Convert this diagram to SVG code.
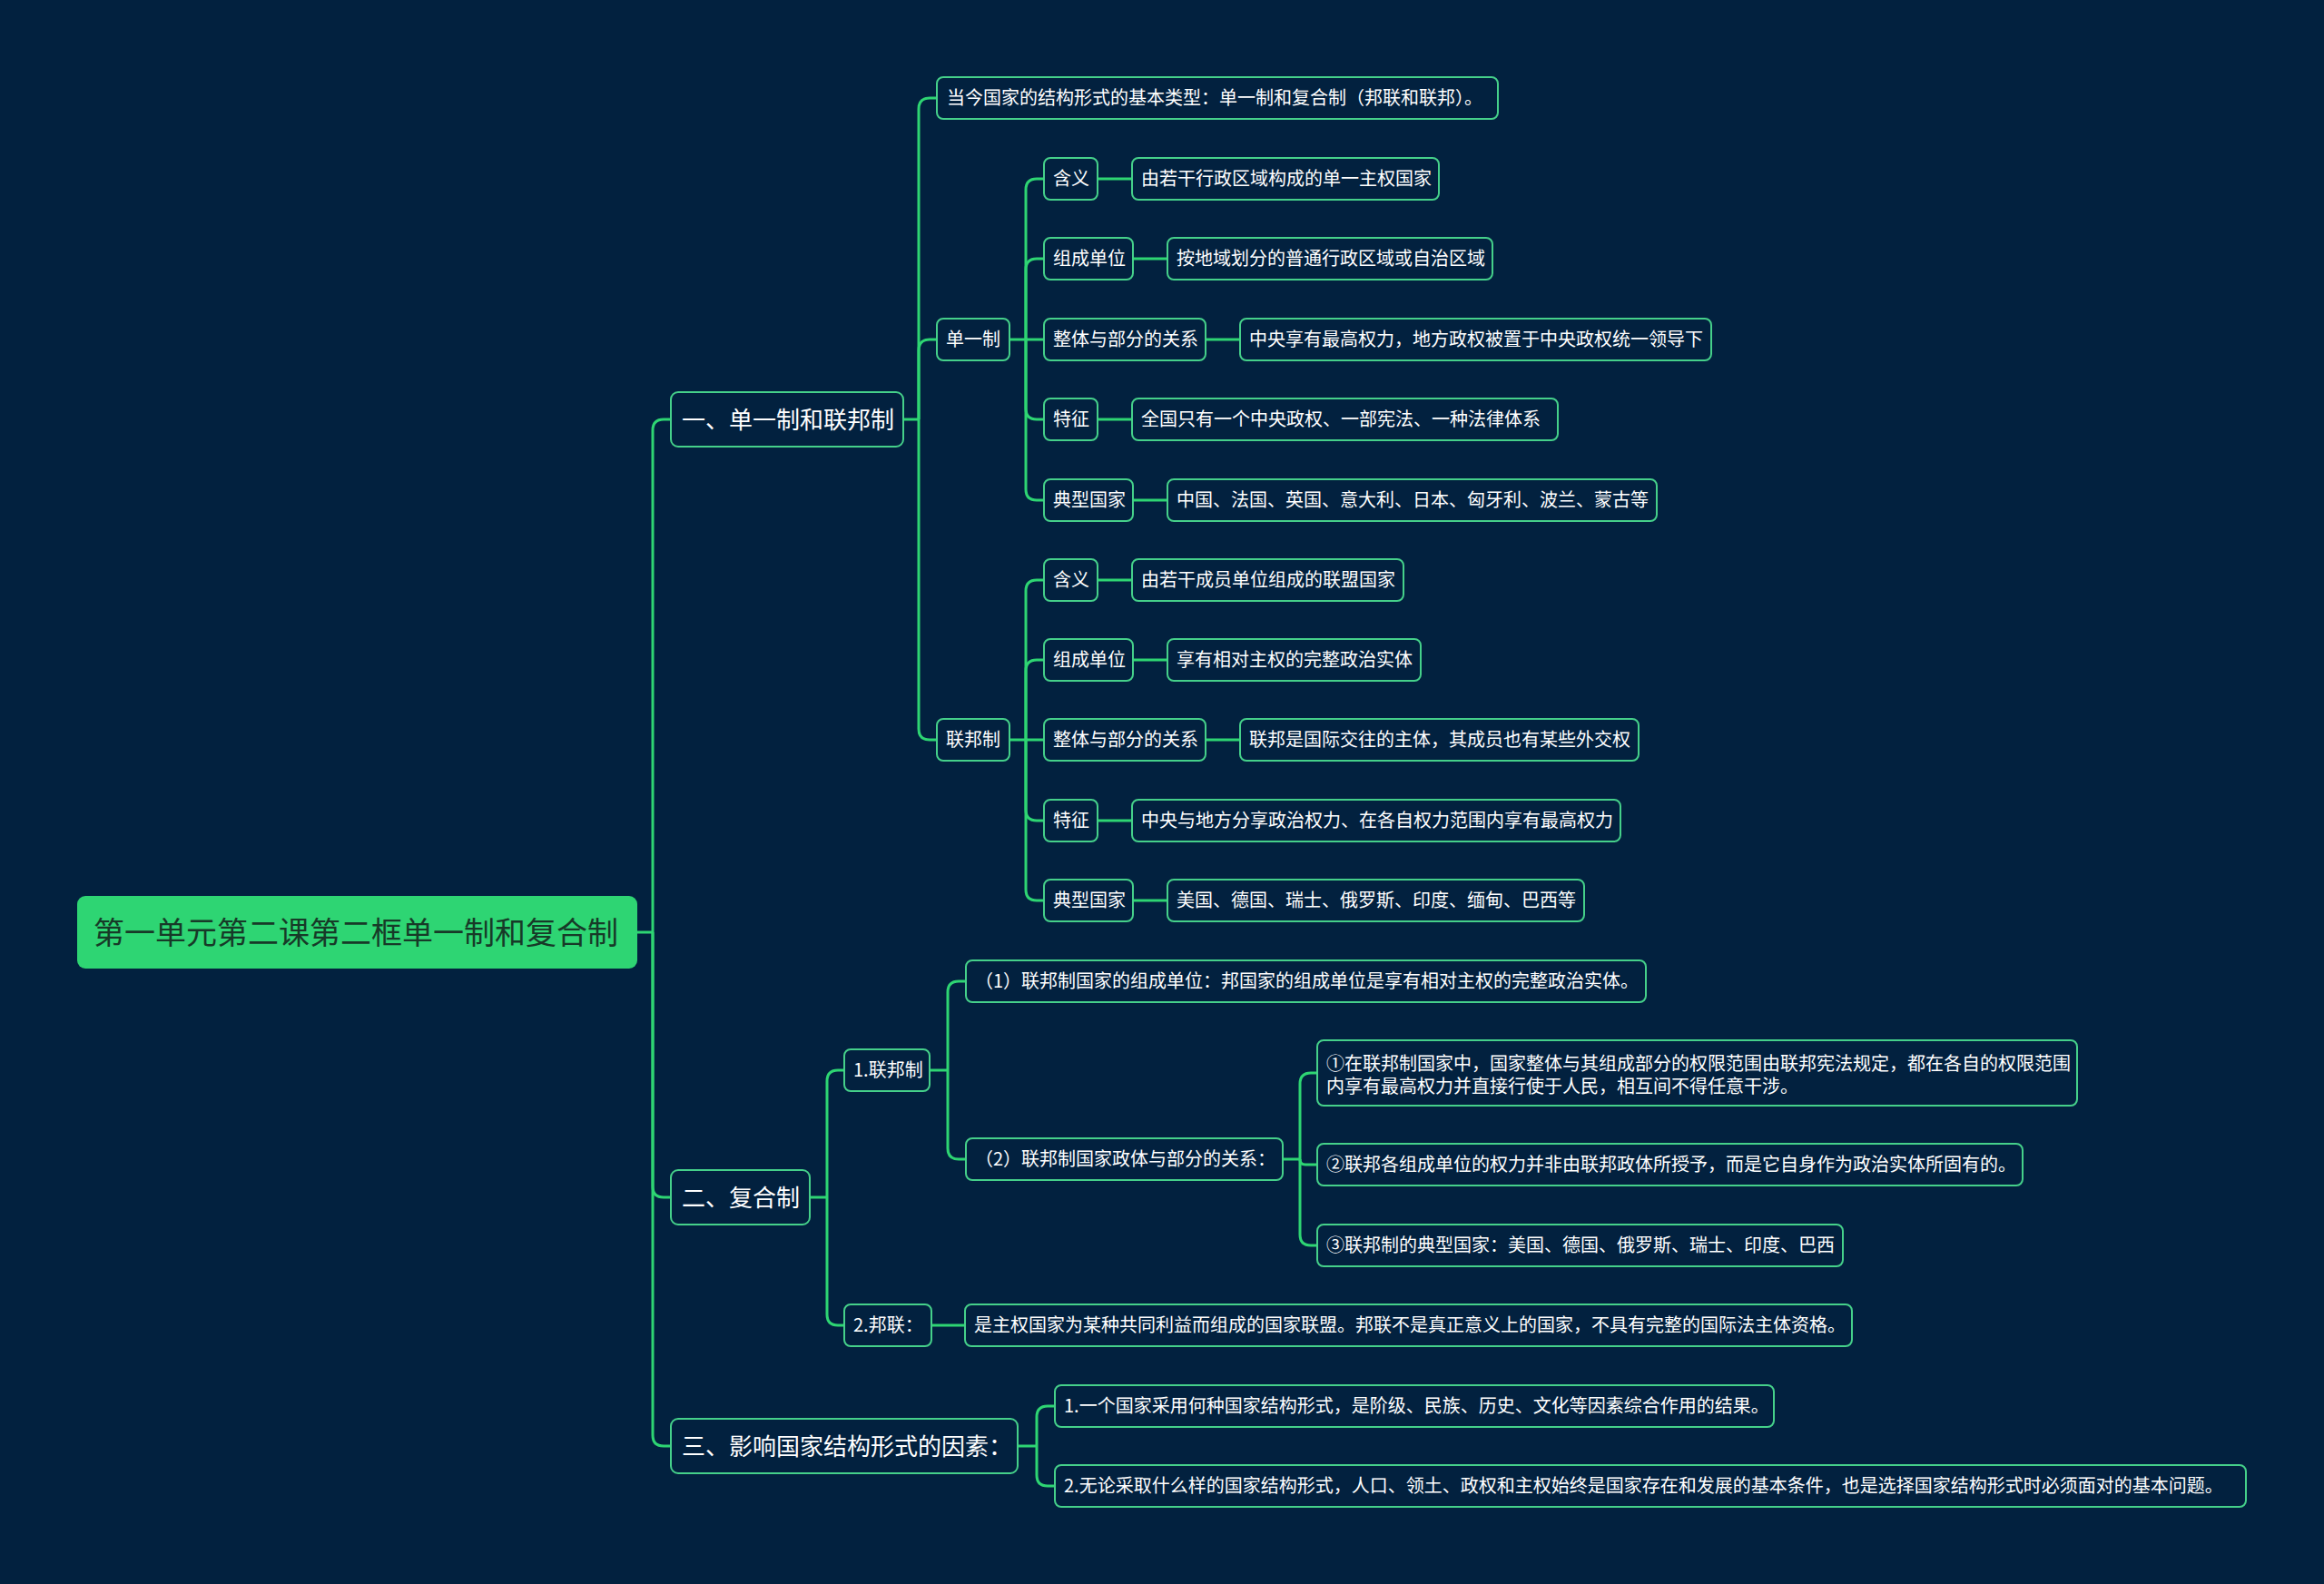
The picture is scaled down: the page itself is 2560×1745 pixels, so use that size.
<svg xmlns="http://www.w3.org/2000/svg" width="2560" height="1745" viewBox="0 0 2560 1745">
<style>
.bg{fill:#02213f}
.n rect{fill:#02213f;stroke:#45d08a;stroke-width:2}
.t{font-family:"Noto Sans CJK SC","Noto Sans",sans-serif;fill:#ffffff;font-size:20px}
.t1{font-size:26px}
.root rect{fill:#2ed573;stroke:none}
.root text{font-family:"Noto Sans CJK SC","Noto Sans",sans-serif;fill:#173a28;font-size:34px}
.c path{fill:none;stroke:#2ed573;stroke-width:3}
</style>
<rect class="bg" x="0" y="0" width="2560" height="1745"/>
<g class="c" id="connectors">
<path d="M702,1027 H719"/>
<path d="M719,1027 V474 Q719,462 731,462 H739"/>
<path d="M719,1027 V1307 Q719,1319 731,1319 H739"/>
<path d="M719,1027 V1581 Q719,1593 731,1593 H739"/>
<path d="M995,462 H1012"/>
<path d="M1012,462 V120 Q1012,108 1024,108 H1032"/>
<path d="M1012,462 V386 Q1012,374 1024,374 H1032"/>
<path d="M1012,462 V803 Q1012,815 1024,815 H1032"/>
<path d="M1112,374 H1130"/>
<path d="M1130,374 V209 Q1130,197 1142,197 H1150"/>
<path d="M1130,374 V297 Q1130,285 1142,285 H1150"/>
<path d="M1130,374 H1150"/>
<path d="M1130,374 V450 Q1130,462 1142,462 H1150"/>
<path d="M1130,374 V539 Q1130,551 1142,551 H1150"/>
<path d="M1209,197 H1247"/>
<path d="M1248,285 H1286"/>
<path d="M1328,374 H1366"/>
<path d="M1209,462 H1247"/>
<path d="M1248,551 H1286"/>
<path d="M1112,815 H1130"/>
<path d="M1130,815 V651 Q1130,639 1142,639 H1150"/>
<path d="M1130,815 V739 Q1130,727 1142,727 H1150"/>
<path d="M1130,815 H1150"/>
<path d="M1130,815 V892 Q1130,904 1142,904 H1150"/>
<path d="M1130,815 V980 Q1130,992 1142,992 H1150"/>
<path d="M1209,639 H1247"/>
<path d="M1248,727 H1286"/>
<path d="M1328,815 H1366"/>
<path d="M1209,904 H1247"/>
<path d="M1248,992 H1286"/>
<path d="M892,1319 H911"/>
<path d="M911,1319 V1191 Q911,1179 923,1179 H930"/>
<path d="M911,1319 V1448 Q911,1460 923,1460 H930"/>
<path d="M1024,1179 H1044"/>
<path d="M1044,1179 V1093 Q1044,1081 1056,1081 H1064"/>
<path d="M1044,1179 V1265 Q1044,1277 1056,1277 H1064"/>
<path d="M1413,1277 H1432"/>
<path d="M1432,1277 V1194 Q1432,1182 1444,1182 H1451"/>
<path d="M1432,1277 Q1432,1283 1438,1283 H1451"/>
<path d="M1432,1277 V1360 Q1432,1372 1444,1372 H1451"/>
<path d="M1026,1460 H1063"/>
<path d="M1121,1593 H1142"/>
<path d="M1142,1593 V1561 Q1142,1549 1154,1549 H1162"/>
<path d="M1142,1593 V1625 Q1142,1637 1154,1637 H1162"/>
</g>
<g class="root" id="root"><rect x="85" y="987" width="617" height="80" rx="9"/><text x="103" y="1040">第一单元第二课第二框单一制和复合制</text></g>
<g class="n" id="n1"><rect x="739" y="432" width="256" height="60" rx="8"/><text class="t t1" x="751" y="472">一、单一制和联邦制</text></g>
<g class="n" id="n2"><rect x="739" y="1289" width="153" height="60" rx="8"/><text class="t t1" x="751" y="1329">二、复合制</text></g>
<g class="n" id="n3"><rect x="739" y="1563" width="382" height="60" rx="8"/><text class="t t1" x="751" y="1603">三、影响国家结构形式的因素：</text></g>
<g class="n" id="n1a"><rect x="1032" y="85" width="618" height="46" rx="7"/><text class="t" x="1043" y="115">当今国家的结构形式的基本类型：单一制和复合制（邦联和联邦）。</text></g>
<g class="n" id="n1b"><rect x="1032" y="351" width="80" height="46" rx="7"/><text class="t" x="1042" y="381">单一制</text></g>
<g class="n" id="n1c"><rect x="1032" y="792" width="80" height="46" rx="7"/><text class="t" x="1042" y="822">联邦制</text></g>
<g class="n" id="u1"><rect x="1150" y="174" width="59" height="46" rx="7"/><text class="t" x="1160" y="204">含义</text></g>
<g class="n" id="u1v"><rect x="1247" y="174" width="338" height="46" rx="7"/><text class="t" x="1257" y="204">由若干行政区域构成的单一主权国家</text></g>
<g class="n" id="u2"><rect x="1150" y="262" width="98" height="46" rx="7"/><text class="t" x="1160" y="292">组成单位</text></g>
<g class="n" id="u2v"><rect x="1286" y="262" width="358" height="46" rx="7"/><text class="t" x="1296" y="292">按地域划分的普通行政区域或自治区域</text></g>
<g class="n" id="u3"><rect x="1150" y="351" width="178" height="46" rx="7"/><text class="t" x="1160" y="381">整体与部分的关系</text></g>
<g class="n" id="u3v"><rect x="1366" y="351" width="519" height="46" rx="7"/><text class="t" x="1376" y="381">中央享有最高权力，地方政权被置于中央政权统一领导下</text></g>
<g class="n" id="u4"><rect x="1150" y="439" width="59" height="46" rx="7"/><text class="t" x="1160" y="469">特征</text></g>
<g class="n" id="u4v"><rect x="1247" y="439" width="469" height="46" rx="7"/><text class="t" x="1257" y="469">全国只有一个中央政权、一部宪法、一种法律体系</text></g>
<g class="n" id="u5"><rect x="1150" y="528" width="98" height="46" rx="7"/><text class="t" x="1160" y="558">典型国家</text></g>
<g class="n" id="u5v"><rect x="1286" y="528" width="539" height="46" rx="7"/><text class="t" x="1296" y="558">中国、法国、英国、意大利、日本、匈牙利、波兰、蒙古等</text></g>
<g class="n" id="f1"><rect x="1150" y="616" width="59" height="46" rx="7"/><text class="t" x="1160" y="646">含义</text></g>
<g class="n" id="f1v"><rect x="1247" y="616" width="299" height="46" rx="7"/><text class="t" x="1257" y="646">由若干成员单位组成的联盟国家</text></g>
<g class="n" id="f2"><rect x="1150" y="704" width="98" height="46" rx="7"/><text class="t" x="1160" y="734">组成单位</text></g>
<g class="n" id="f2v"><rect x="1286" y="704" width="279" height="46" rx="7"/><text class="t" x="1296" y="734">享有相对主权的完整政治实体</text></g>
<g class="n" id="f3"><rect x="1150" y="792" width="178" height="46" rx="7"/><text class="t" x="1160" y="822">整体与部分的关系</text></g>
<g class="n" id="f3v"><rect x="1366" y="792" width="439" height="46" rx="7"/><text class="t" x="1376" y="822">联邦是国际交往的主体，其成员也有某些外交权</text></g>
<g class="n" id="f4"><rect x="1150" y="881" width="59" height="46" rx="7"/><text class="t" x="1160" y="911">特征</text></g>
<g class="n" id="f4v"><rect x="1247" y="881" width="538" height="46" rx="7"/><text class="t" x="1257" y="911">中央与地方分享政治权力、在各自权力范围内享有最高权力</text></g>
<g class="n" id="f5"><rect x="1150" y="969" width="98" height="46" rx="7"/><text class="t" x="1160" y="999">典型国家</text></g>
<g class="n" id="f5v"><rect x="1286" y="969" width="459" height="46" rx="7"/><text class="t" x="1296" y="999">美国、德国、瑞士、俄罗斯、印度、缅甸、巴西等</text></g>
<g class="n" id="b1"><rect x="930" y="1156" width="94" height="46" rx="7"/><text class="t" x="940" y="1186">1.联邦制</text></g>
<g class="n" id="b1a"><rect x="1064" y="1058" width="749" height="46" rx="7"/><text class="t" x="1074" y="1088">（1）联邦制国家的组成单位：邦国家的组成单位是享有相对主权的完整政治实体。</text></g>
<g class="n" id="b1b"><rect x="1064" y="1254" width="349" height="46" rx="7"/><text class="t" x="1074" y="1284">（2）联邦制国家政体与部分的关系：</text></g>
<g class="n" id="b1b1"><rect x="1451" y="1146" width="837" height="72" rx="7"/><text class="t" x="1461" y="1179">①在联邦制国家中，国家整体与其组成部分的权限范围由联邦宪法规定，都在各自的权限范围</text><text class="t" x="1461" y="1204">内享有最高权力并直接行使于人民，相互间不得任意干涉。</text></g>
<g class="n" id="b1b2"><rect x="1451" y="1260" width="777" height="46" rx="7"/><text class="t" x="1461" y="1290">②联邦各组成单位的权力并非由联邦政体所授予，而是它自身作为政治实体所固有的。</text></g>
<g class="n" id="b1b3"><rect x="1451" y="1349" width="579" height="46" rx="7"/><text class="t" x="1461" y="1379">③联邦制的典型国家：美国、德国、俄罗斯、瑞士、印度、巴西</text></g>
<g class="n" id="b2"><rect x="930" y="1437" width="96" height="46" rx="7"/><text class="t" x="940" y="1467">2.邦联：</text></g>
<g class="n" id="b2a"><rect x="1063" y="1437" width="977" height="46" rx="7"/><text class="t" x="1073" y="1467">是主权国家为某种共同利益而组成的国家联盟。邦联不是真正意义上的国家，不具有完整的国际法主体资格。</text></g>
<g class="n" id="c1"><rect x="1162" y="1526" width="792" height="46" rx="7"/><text class="t" x="1172" y="1556">1.一个国家采用何种国家结构形式，是阶级、民族、历史、文化等因素综合作用的结果。</text></g>
<g class="n" id="c2"><rect x="1162" y="1614" width="1312" height="46" rx="7"/><text class="t" x="1172" y="1644">2.无论采取什么样的国家结构形式，人口、领土、政权和主权始终是国家存在和发展的基本条件，也是选择国家结构形式时必须面对的基本问题。</text></g>
</svg>
